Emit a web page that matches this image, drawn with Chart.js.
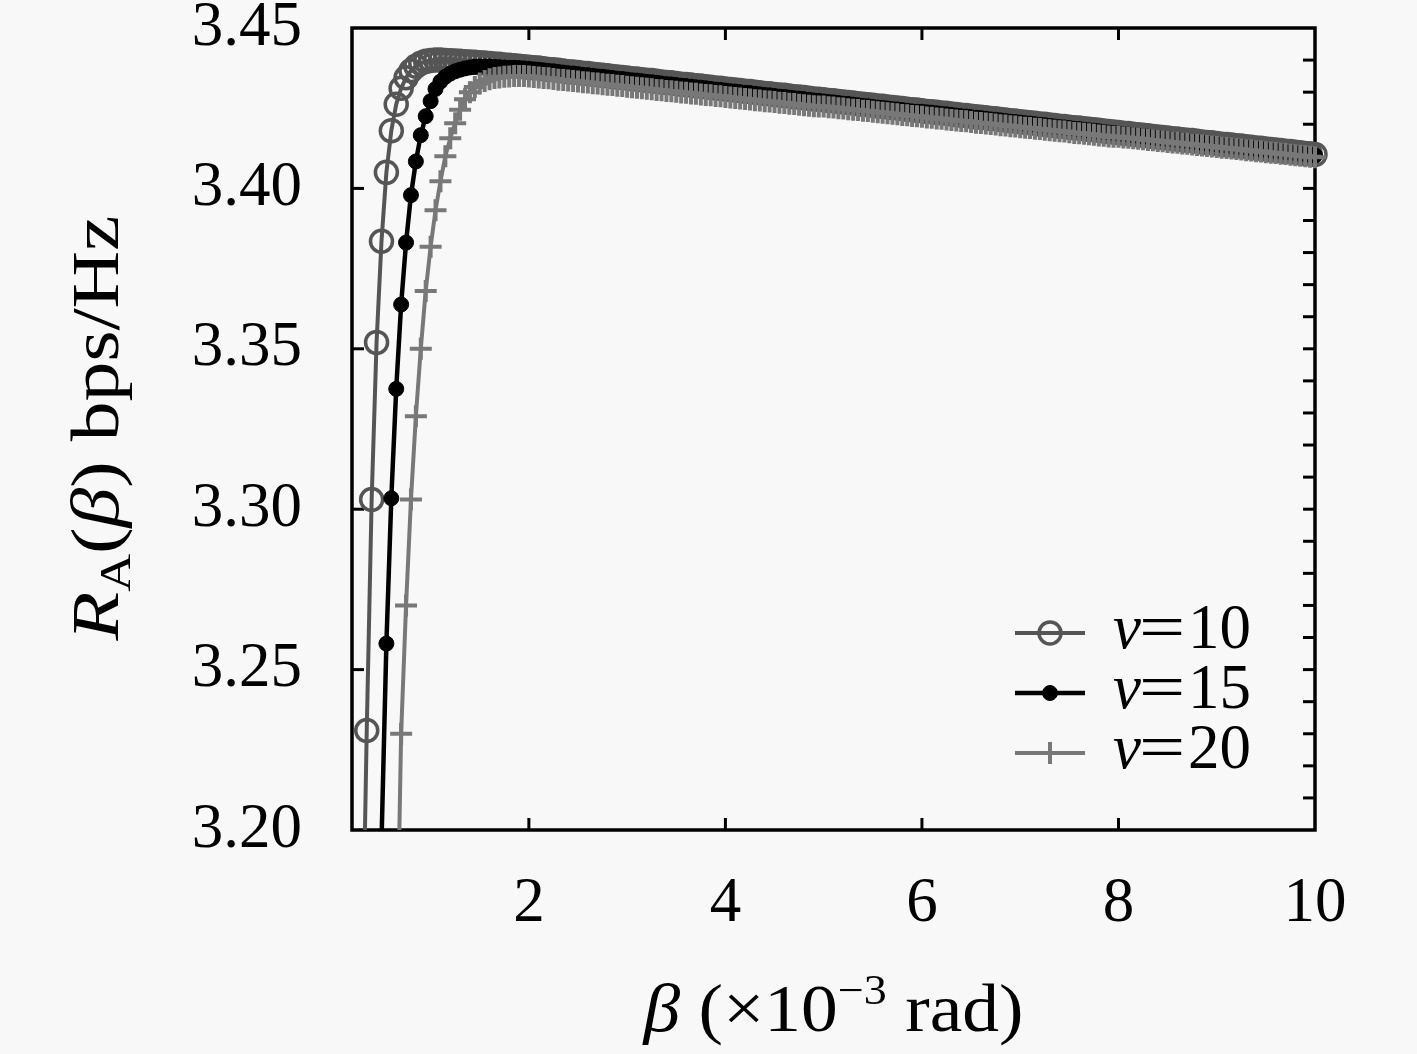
<!DOCTYPE html>
<html>
<head>
<meta charset="utf-8">
<script src="https://cdn.jsdelivr.net/npm/chart.js@4.4.0/dist/chart.umd.min.js"></script>
<style>
html,body{margin:0;padding:0;background:#f8f8f8;overflow:hidden}
canvas{display:block}
</style>
</head>
<body>
<canvas id="c" width="1417" height="1054"></canvas>
<script>
// beta (x 10^-3 rad)
const betas = [
0.30,0.35,0.40,0.45,0.50,0.55,0.60,0.65,0.70,0.75,
0.80,0.85,0.90,0.95,1.00,1.05,1.10,1.15,1.20,1.25,
1.30,1.35,1.40,1.45,1.50,1.55,1.60,1.65,1.70,1.75,
1.80,1.85,1.90,1.95,
2.00,2.05,2.10,2.15,2.20,2.25,2.30,2.35,2.40,2.45,
2.50,2.55,2.60,2.65,2.70,2.75,2.80,2.85,2.90,2.95,
3.00,3.05,3.10,3.15,3.20,3.25,3.30,3.35,3.40,3.45,
3.50,3.55,3.60,3.65,3.70,3.75,3.80,3.85,3.90,3.95,
4.00,4.05,4.10,4.15,4.20,4.25,4.30,4.35,4.40,4.45,
4.50,4.55,4.60,4.65,4.70,4.75,4.80,4.85,4.90,4.95,
5.00,5.05,5.10,5.15,5.20,5.25,5.30,5.35,5.40,5.45,
5.50,5.55,5.60,5.65,5.70,5.75,5.80,5.85,5.90,5.95,
6.00,6.05,6.10,6.15,6.20,6.25,6.30,6.35,6.40,6.45,
6.50,6.55,6.60,6.65,6.70,6.75,6.80,6.85,6.90,6.95,
7.00,7.05,7.10,7.15,7.20,7.25,7.30,7.35,7.40,7.45,
7.50,7.55,7.60,7.65,7.70,7.75,7.80,7.85,7.90,7.95,
8.00,8.05,8.10,8.15,8.20,8.25,8.30,8.35,8.40,8.45,
8.50,8.55,8.60,8.65,8.70,8.75,8.80,8.85,8.90,8.95,
9.00,9.05,9.10,9.15,9.20,9.25,9.30,9.35,9.40,9.45,
9.50,9.55,9.60,9.65,9.70,9.75,9.80,9.85,9.90,9.95,
10.00
];

// R_A(beta) for v = 10
const rateV10 = [
3.145,3.231,3.303,3.352,3.3835,3.4050,3.4180,3.4262,3.4312,3.4345,
3.4367,3.4381,3.4390,3.4396,3.4399,3.4400,3.4400,3.4399,3.4398,3.4397,
3.4396,3.4395,3.4394,3.4393,3.4392,3.4391,3.4389,3.4388,3.4387,3.4385,
3.4384,3.4382,3.4381,3.4379,
3.4378,3.4376,3.4375,3.4373,3.4371,3.4370,3.4368,3.4366,3.4364,3.4363,
3.4361,3.4359,3.4358,3.4356,3.4354,3.4353,3.4351,3.4349,3.4347,3.4346,
3.4344,3.4342,3.4341,3.4339,3.4337,3.4336,3.4334,3.4332,3.4330,3.4329,
3.4327,3.4325,3.4324,3.4322,3.4320,3.4319,3.4317,3.4315,3.4313,3.4312,
3.4310,3.4308,3.4307,3.4305,3.4303,3.4302,3.4300,3.4298,3.4296,3.4295,
3.4293,3.4291,3.4290,3.4288,3.4286,3.4285,3.4283,3.4281,3.4279,3.4278,
3.4276,3.4274,3.4273,3.4271,3.4269,3.4268,3.4266,3.4264,3.4262,3.4261,
3.4259,3.4257,3.4256,3.4254,3.4252,3.4251,3.4249,3.4247,3.4245,3.4244,
3.4242,3.4240,3.4239,3.4237,3.4235,3.4234,3.4232,3.4230,3.4228,3.4227,
3.4225,3.4223,3.4222,3.4220,3.4218,3.4217,3.4215,3.4213,3.4211,3.4210,
3.4208,3.4206,3.4205,3.4203,3.4201,3.4200,3.4198,3.4196,3.4194,3.4193,
3.4191,3.4189,3.4188,3.4186,3.4184,3.4183,3.4181,3.4179,3.4177,3.4176,
3.4174,3.4172,3.4171,3.4169,3.4167,3.4166,3.4164,3.4162,3.4160,3.4159,
3.4157,3.4155,3.4154,3.4152,3.4150,3.4149,3.4147,3.4145,3.4143,3.4142,
3.4140,3.4138,3.4137,3.4135,3.4133,3.4132,3.4130,3.4128,3.4126,3.4125,
3.4123,3.4121,3.4120,3.4118,3.4116,3.4115,3.4113,3.4111,3.4109,3.4108,
3.4106
];

// R_A(beta) for v = 15
const rateV15 = [
null,null,null,null,3.196,3.2581,3.3034,3.3375,3.3638,3.3831,
3.3979,3.4084,3.4166,3.4225,3.4272,3.4310,3.4333,3.4348,3.4358,3.4365,
3.4370,3.4374,3.4377,3.4379,3.4380,3.4380,3.4380,3.4379,3.4378,3.4377,
3.4376,3.4376,3.4375,3.4374,
3.4373,3.4371,3.4370,3.4368,3.4366,3.4365,3.4363,3.4361,3.4359,3.4358,
3.4356,3.4354,3.4353,3.4351,3.4349,3.4348,3.4346,3.4344,3.4342,3.4341,
3.4339,3.4337,3.4336,3.4334,3.4332,3.4331,3.4329,3.4327,3.4325,3.4324,
3.4322,3.4320,3.4319,3.4317,3.4315,3.4314,3.4312,3.4310,3.4308,3.4307,
3.4305,3.4303,3.4302,3.4300,3.4298,3.4297,3.4295,3.4293,3.4291,3.4290,
3.4288,3.4286,3.4285,3.4283,3.4281,3.4280,3.4278,3.4276,3.4274,3.4273,
3.4271,3.4269,3.4268,3.4266,3.4264,3.4263,3.4261,3.4259,3.4257,3.4256,
3.4254,3.4252,3.4251,3.4249,3.4247,3.4246,3.4244,3.4242,3.4240,3.4239,
3.4239,3.4237,3.4236,3.4234,3.4232,3.4231,3.4229,3.4227,3.4225,3.4224,
3.4222,3.4220,3.4219,3.4217,3.4215,3.4214,3.4212,3.4210,3.4208,3.4207,
3.4205,3.4203,3.4202,3.4200,3.4198,3.4197,3.4195,3.4193,3.4191,3.4190,
3.4188,3.4186,3.4185,3.4183,3.4181,3.4180,3.4178,3.4176,3.4174,3.4173,
3.4171,3.4169,3.4168,3.4166,3.4164,3.4163,3.4161,3.4159,3.4157,3.4156,
3.4154,3.4152,3.4151,3.4149,3.4147,3.4146,3.4144,3.4142,3.4140,3.4139,
3.4137,3.4135,3.4134,3.4132,3.4130,3.4129,3.4127,3.4125,3.4123,3.4122,
3.4120,3.4118,3.4117,3.4115,3.4113,3.4112,3.4110,3.4108,3.4106,3.4105,
3.4103
];

// R_A(beta) for v = 20
const rateV20 = [
null,null,null,null,null,null,null,3.147,3.230,3.270,
3.303,3.329,3.350,3.368,3.3818,3.3932,3.4022,3.4100,3.4156,3.4203,
3.4245,3.4278,3.4300,3.4316,3.4327,3.4335,3.4340,3.4344,3.4346,3.4348,
3.4349,3.4350,3.4350,3.4350,
3.4349,3.4347,3.4346,3.4344,3.4343,3.4341,3.4339,3.4338,3.4336,3.4335,
3.4333,3.4331,3.4330,3.4328,3.4327,3.4325,3.4323,3.4322,3.4320,3.4319,
3.4317,3.4315,3.4314,3.4312,3.4311,3.4309,3.4307,3.4306,3.4304,3.4303,
3.4301,3.4299,3.4298,3.4296,3.4295,3.4293,3.4291,3.4290,3.4288,3.4287,
3.4285,3.4283,3.4282,3.4280,3.4279,3.4277,3.4275,3.4274,3.4272,3.4271,
3.4269,3.4267,3.4266,3.4264,3.4263,3.4261,3.4259,3.4258,3.4256,3.4255,
3.4255,3.4253,3.4252,3.4250,3.4249,3.4247,3.4245,3.4244,3.4242,3.4241,
3.4239,3.4237,3.4236,3.4234,3.4233,3.4231,3.4229,3.4228,3.4226,3.4225,
3.4223,3.4221,3.4220,3.4218,3.4217,3.4215,3.4213,3.4212,3.4210,3.4209,
3.4207,3.4205,3.4204,3.4202,3.4201,3.4199,3.4197,3.4196,3.4194,3.4193,
3.4191,3.4189,3.4188,3.4186,3.4185,3.4183,3.4181,3.4180,3.4178,3.4177,
3.4175,3.4173,3.4172,3.4170,3.4169,3.4167,3.4165,3.4164,3.4162,3.4161,
3.4161,3.4159,3.4158,3.4156,3.4155,3.4153,3.4151,3.4150,3.4148,3.4147,
3.4145,3.4143,3.4142,3.4140,3.4139,3.4137,3.4135,3.4134,3.4132,3.4131,
3.4129,3.4127,3.4126,3.4124,3.4123,3.4121,3.4119,3.4118,3.4116,3.4115,
3.4113,3.4111,3.4110,3.4108,3.4107,3.4105,3.4103,3.4102,3.4100,3.4099,
3.4097
];

const seriesLabels = ['10', '15', '20'];
const xTickValues = [2, 4, 6, 8, 10];
const yTickValues = [3.20, 3.25, 3.30, 3.35, 3.40, 3.45];
const yRightTickValues = [3.21,3.22,3.23,3.24,3.25,3.26,3.27,3.28,3.29,3.30,3.31,3.32,
  3.33,3.34,3.35,3.36,3.37,3.38,3.39,3.40,3.41,3.42,3.43,3.44];

const SERIF = "'Liberation Serif', 'DejaVu Serif', serif";
const Y_MIN = 3.20, Y_MAX = 3.45;

function toPoints(ys) {
  const pts = [];
  for (let i = 0; i < betas.length; i++) {
    if (ys[i] !== null && ys[i] !== undefined) pts.push({x: betas[i], y: ys[i]});
  }
  return pts;
}

const styles = [
  {color: '#555555', lineWidth: 4, pointStyle: 'circle', radius: 11, fill: 'rgba(0,0,0,0)', pbw: 3.5},
  {color: '#000000', lineWidth: 4.5, pointStyle: 'circle', radius: 7.5, fill: '#000000', pbw: 1},
  {color: '#787878', lineWidth: 4, pointStyle: 'cross', radius: 11, fill: '#787878', pbw: 4}
];
const seriesData = [rateV10, rateV15, rateV20];

const datasets = seriesData.map((ys, i) => ({
  label: 'v=' + seriesLabels[i],
  data: toPoints(ys),
  borderColor: styles[i].color,
  borderWidth: styles[i].lineWidth,
  pointStyle: styles[i].pointStyle,
  pointRadius: ctx => (ctx.raw && ctx.raw.y < Y_MIN) ? 0 : styles[i].radius,
  pointBorderColor: styles[i].color,
  pointBackgroundColor: styles[i].fill,
  pointBorderWidth: styles[i].pbw,
  tension: 0,
  fill: false,
  order: 3 - i,
  clip: {left: 0, top: 0, right: 14, bottom: 0}
}));

function line(ctx, x1, y1, x2, y2) {
  ctx.beginPath(); ctx.moveTo(x1, y1); ctx.lineTo(x2, y2); ctx.stroke();
}

function drawRuns(ctx, runs, targetW) {
  let w = 0;
  runs.forEach(r => { ctx.font = r.f; r.w = ctx.measureText(r.t).width; w += r.w; });
  const sx = targetW / w;
  ctx.save();
  ctx.scale(sx, 1);
  let x = -w / 2;
  ctx.textBaseline = 'alphabetic';
  ctx.textAlign = 'left';
  runs.forEach(r => { ctx.font = r.f; ctx.fillText(r.t, x, r.dy || 0); x += r.w; });
  ctx.restore();
}

const framePlugin = {
  id: 'frame',
  beforeDatasetsDraw(chart) {
    const ctx = chart.ctx;
    const {left, right, top, bottom} = chart.chartArea;
    const xs = chart.scales.x, ys = chart.scales.y;
    ctx.save();
    ctx.strokeStyle = '#000';
    ctx.lineWidth = 3.5;
    ctx.strokeRect(left, top, right - left, bottom - top);
    ctx.lineWidth = 3;
    const tl = 12;
    xTickValues.forEach(v => {
      if (v >= xs.max) return;
      const px = xs.getPixelForValue(v);
      line(ctx, px, bottom, px, bottom - tl);
      line(ctx, px, top, px, top + tl);
    });
    yTickValues.forEach(v => {
      if (v <= Y_MIN || v >= Y_MAX) return;
      const py = ys.getPixelForValue(v);
      line(ctx, left, py, left + tl, py);
    });
    yRightTickValues.forEach(v => {
      const py = ys.getPixelForValue(v);
      line(ctx, right, py, right - tl, py);
    });
    ctx.restore();
  },
  afterDraw(chart) {
    const ctx = chart.ctx;
    const {left, right, top, bottom} = chart.chartArea;
    ctx.save();
    ctx.fillStyle = '#000';
    // x title
    ctx.save();
    ctx.translate((left + right) / 2, 1031);
    drawRuns(ctx, [
      {t: 'β', f: 'italic 67px ' + SERIF},
      {t: ' (×10', f: '67px ' + SERIF},
      {t: '−3', f: '42px ' + SERIF, dy: -27},
      {t: ' rad)', f: '67px ' + SERIF}
    ], 380);
    ctx.restore();
    // y title
    ctx.save();
    ctx.translate(118, (top + bottom) / 2 - 1);
    ctx.rotate(-Math.PI / 2);
    drawRuns(ctx, [
      {t: 'R', f: 'italic 67px ' + SERIF},
      {t: 'A', f: '44px ' + SERIF, dy: 12},
      {t: '(', f: '67px ' + SERIF},
      {t: 'β', f: 'italic 67px ' + SERIF},
      {t: ') bps/Hz', f: '67px ' + SERIF}
    ], 425);
    ctx.restore();
    // legend
    const lx0 = right - 300, lx1 = right - 230, lxm = right - 265;
    const tx = right - 202;
    for (let i = 0; i < 3; i++) {
      const y = bottom - 197 + 60 * i;
      const s = styles[i];
      ctx.strokeStyle = s.color;
      ctx.lineWidth = s.lineWidth;
      line(ctx, lx0, y, lx1, y);
      if (s.pointStyle === 'circle') {
        ctx.beginPath();
        ctx.arc(lxm, y, s.radius, 0, Math.PI * 2);
        ctx.fillStyle = s.fill;
        ctx.fill();
        ctx.lineWidth = s.pbw;
        ctx.stroke();
      } else {
        ctx.lineWidth = s.pbw;
        line(ctx, lxm, y - s.radius, lxm, y + s.radius);
        line(ctx, lxm - s.radius, y, lxm + s.radius, y);
      }
      ctx.fillStyle = '#000';
      ctx.textBaseline = 'middle';
      ctx.textAlign = 'left';
      ctx.font = 'italic 63px ' + SERIF;
      ctx.fillText('v', tx, y - 2);
      ctx.font = '63px ' + SERIF;
      ctx.save();
      ctx.translate(tx + 26, y - 2);
      ctx.scale(1.3, 1);
      ctx.fillText('=', 0, 0);
      ctx.restore();
      ctx.fillText(seriesLabels[i], tx + 75, y - 2);
    }
    ctx.restore();
  }
};

new Chart(document.getElementById('c'), {
  type: 'line',
  data: {datasets},
  options: {
    responsive: false,
    devicePixelRatio: 1,
    animation: false,
    events: [],
    layout: {padding: {left: 0, top: 28, right: 102, bottom: 0}},
    plugins: {legend: {display: false}, tooltip: {enabled: false}, title: {display: false}},
    scales: {
      x: {
        type: 'linear',
        position: 'bottom',
        min: 0.2,
        max: 10,
        afterBuildTicks: s => { s.ticks = xTickValues.map(v => ({value: v})); },
        afterFit: s => { s.height = 224; s.paddingLeft = 0; s.paddingRight = 0; },
        grid: {display: false, drawTicks: false},
        border: {display: false},
        ticks: {
          font: {family: SERIF, size: 63},
          color: '#000',
          padding: 37,
          maxRotation: 0,
          autoSkip: false,
          callback: v => String(v)
        }
      },
      y: {
        type: 'linear',
        position: 'left',
        min: Y_MIN,
        max: Y_MAX,
        afterBuildTicks: s => { s.ticks = yTickValues.map(v => ({value: v})); },
        afterFit: s => { s.width = 352; s.paddingTop = 0; s.paddingBottom = 0; },
        grid: {display: false, drawTicks: false},
        border: {display: false},
        ticks: {
          font: {family: SERIF, size: 63},
          color: '#000',
          padding: 50,
          autoSkip: false,
          callback: v => Number(v).toFixed(2)
        }
      }
    }
  },
  plugins: [framePlugin]
});
</script>
</body>
</html>
